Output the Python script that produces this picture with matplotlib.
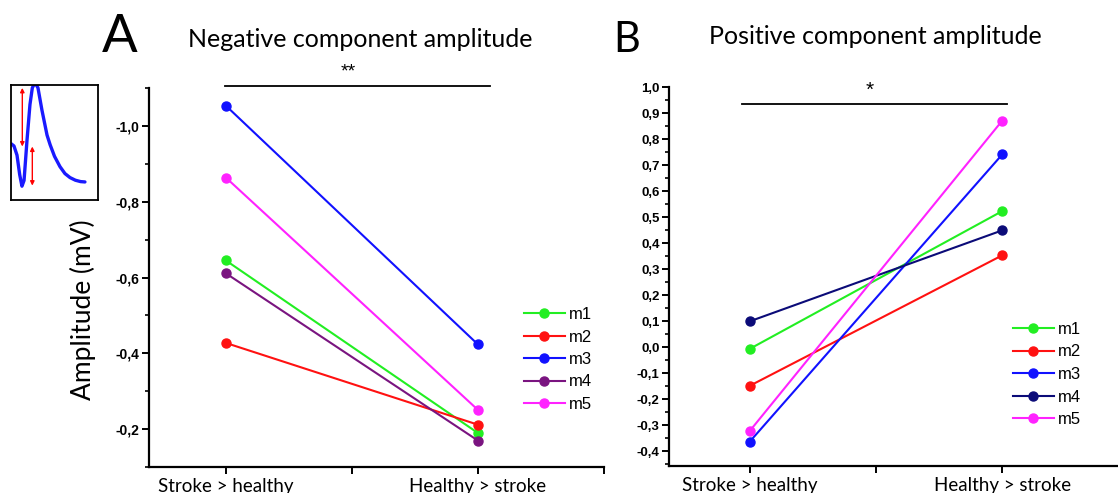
import matplotlib
matplotlib.use("Agg")
import matplotlib.pyplot as plt
from matplotlib.ticker import FixedLocator, MultipleLocator, FuncFormatter

# ---------------- data ----------------
conditions = ["Stroke > healthy", "Healthy > stroke"]
mice = ["m1", "m2", "m3", "m4", "m5"]
neg_m1 = [-0.645, -0.189]
neg_m2 = [-0.427, -0.211]
neg_m3 = [-1.054, -0.423]
neg_m4 = [-0.611, -0.169]
neg_m5 = [-0.864, -0.250]
pos_m1 = [-0.006, 0.524]
pos_m2 = [-0.148, 0.354]
pos_m3 = [-0.363, 0.742]
pos_m4 = [0.100, 0.450]
pos_m5 = [-0.322, 0.872]
neg_colors = ["#22ee22", "#ff1111", "#1111ff", "#7a1480", "#ff22ff"]
pos_colors = ["#22ee22", "#ff1111", "#1111ff", "#0b0b78", "#ff22ff"]
# inset illustration (waveform, normalized box coords)
wave_x = [0.0, 0.034, 0.069, 0.10, 0.126, 0.15, 0.184, 0.218, 0.245, 0.276, 0.31, 0.356, 0.414, 0.45, 0.50, 0.563, 0.62, 0.678, 0.74, 0.80, 0.85]
wave_y = [0.49, 0.47, 0.39, 0.22, 0.12, 0.17, 0.52, 0.83, 0.975, 1.02, 0.975, 0.78, 0.565, 0.48, 0.38, 0.29, 0.23, 0.195, 0.172, 0.16, 0.157]

W, H = 1118, 493
fig = plt.figure(figsize=(W / 100, H / 100), dpi=100)

def fx(px):
    return px / W

def fy(py):
    return 1 - py / H

comma = FuncFormatter(lambda v, p: ("%.1f" % v).replace(".", ","))
xs = [1, 2]

def style(ax, fs):
    for s in ["top", "right"]:
        ax.spines[s].set_visible(False)
    for s in ["left", "bottom"]:
        ax.spines[s].set_linewidth(1.6)
    ax.set_xticks([1, 1.5, 2, 2.5])
    ax.set_xticklabels([conditions[0], "", conditions[1], ""], family="Lato", fontsize=13.5)
    ax.tick_params(axis="x", direction="out", length=5, width=1.4, pad=3)
    ax.tick_params(axis="y", which="major", direction="out", length=5, width=1.4, pad=2)
    ax.tick_params(axis="y", which="minor", direction="out", length=3, width=1.2)
    ax.yaxis.set_major_formatter(comma)
    for t in ax.get_yticklabels():
        t.set_fontproperties(dict(family="Liberation Sans", weight="bold", size=fs))

leg_kw = dict(frameon=False, handlelength=2.45, handletextpad=0.25, labelspacing=0.45,
              borderpad=0, borderaxespad=0, prop=dict(family="Liberation Sans", size=12))

# ---------------- panel A ----------------
axA = fig.add_axes([fx(149), fy(466.7), fx(604 - 149), (466.7 - 88.3) / H])
negs = [neg_m1, neg_m2, neg_m3, neg_m4, neg_m5]
for vals, c, lab in zip(negs, neg_colors, mice):
    axA.plot(xs, vals, "-o", color=c, lw=1.5, ms=6.5, label=lab)
axA.set_xlim(0.695, 2.5)
axA.set_ylim(-0.1, -1.1)
axA.yaxis.set_major_locator(FixedLocator([-1.0, -0.8, -0.6, -0.4, -0.2]))
axA.yaxis.set_minor_locator(FixedLocator([-1.1, -0.9, -0.7, -0.5, -0.3, -0.1]))
style(axA, 10)
axA.set_ylabel("Amplitude (mV)", family="Lato", fontsize=19)
axA.yaxis.set_label_coords((96 - 149) / (604 - 149), (466.7 - 310) / (466.7 - 88.3))
axA.plot([0.995, 2.046], [-1.105, -1.105], color="black", lw=1.3, clip_on=False)
axA.text(1.484, -1.122, "**", ha="center", va="bottom", fontsize=14, family="Liberation Sans")
axA.legend(loc="upper left",
           bbox_to_anchor=((524 - 149) / (604 - 149), (466.7 - 307) / (466.7 - 88.3)), **leg_kw)

# ---------------- panel B ----------------
axB = fig.add_axes([fx(669.3), fy(465.7), (1128.6 - 669.3) / W, (465.7 - 87.3) / H])
poss = [pos_m1, pos_m2, pos_m3, pos_m4, pos_m5]
for vals, c, lab in zip(poss, pos_colors, mice):
    axB.plot(xs, vals, "-o", color=c, lw=1.5, ms=6.5, label=lab)
axB.set_xlim(0.682, 2.5)
axB.set_ylim(-0.455, 1.0)
axB.yaxis.set_major_locator(MultipleLocator(0.1))
axB.yaxis.set_minor_locator(MultipleLocator(0.05))
style(axB, 9.5)
axB.plot([0.971, 2.019], [0.934, 0.934], color="black", lw=1.3, clip_on=False)
axB.text(1.476, 0.952, "*", ha="center", va="bottom", fontsize=15, family="Liberation Sans")
axB.legend(loc="upper left",
           bbox_to_anchor=((1013 - 669.3) / (1128.6 - 669.3), (465.7 - 322) / (465.7 - 87.3)), **leg_kw)

# ---------------- titles & letters ----------------
fig.text(fx(360), fy(47), "Negative component amplitude", ha="center", va="baseline", family="Lato", fontsize=18)
fig.text(fx(875), fy(44), "Positive component amplitude", ha="center", va="baseline", family="Lato", fontsize=18)
fig.text(fx(119.5), fy(52), "A", ha="center", va="baseline", family="Lato", fontsize=38)
fig.text(fx(627), fy(52), "B", ha="center", va="baseline", family="Lato", fontsize=30)

# ---------------- inset ----------------
axI = fig.add_axes([fx(11), fy(200), 87 / W, 115 / H])
axI.plot(wave_x, wave_y, color="#1a1aff", lw=2.4, solid_capstyle="round", solid_joinstyle="round")
axI.set_xlim(0, 1)
axI.set_ylim(0, 1)
axI.set_xticks([])
axI.set_yticks([])
for s in axI.spines.values():
    s.set_linewidth(1.3)
arrow = dict(arrowstyle="<|-|>", color="red", lw=1.0, mutation_scale=6, shrinkA=0, shrinkB=0)
axI.annotate("", xy=(0.13, 0.975), xytext=(0.13, 0.465), arrowprops=arrow)
axI.annotate("", xy=(0.245, 0.465), xytext=(0.245, 0.125), arrowprops=arrow)

fig.savefig("out.png", dpi=100)
